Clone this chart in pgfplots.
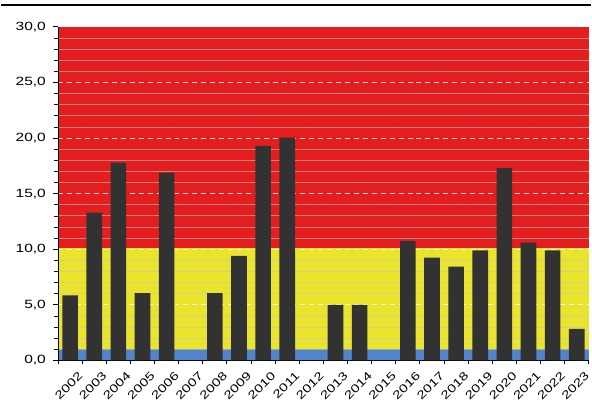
\documentclass[border=0pt]{standalone}
\usepackage{pgfplots}
\pgfplotsset{compat=1.18}
\usepackage{fontspec}
\setmainfont{Liberation Sans}[FakeStretch=1.3]
\definecolor{bandred}{RGB}{228,30,30}
\definecolor{bandyel}{RGB}{234,228,44}
\definecolor{bandblue}{RGB}{82,132,204}
\definecolor{bardark}{RGB}{50,50,50}
\begin{document}
\begin{tikzpicture}
\begin{axis}[
  at={(57pt,59pt)}, anchor=south west,
  scale only axis, width=533pt, height=335pt,
  set layers,
  xmin=-0.5, xmax=21.5, ymin=0, ymax=30,
  axis x line*=bottom, axis y line*=left,
  axis line style={black, line width=1pt},
  xtick={0,...,21},
  xticklabels={2002,2003,2004,2005,2006,2007,2008,2009,2010,2011,2012,2013,2014,2015,2016,2017,2018,2019,2020,2021,2022,2023},
  major x tick style={draw=none},
  minor xtick={-0.5,0.5,...,21.5},
  minor x tick style={black, line width=0.8pt},
  x tick label style={rotate=45, anchor=north east, inner sep=0pt, font=\fontsize{11.5}{13}\selectfont, xshift=1.5pt, yshift=-9pt},
  ytick={0,5,...,30},
  minor y tick num=4,
  y tick label style={font=\fontsize{12}{13}\selectfont, inner sep=2pt, xshift=-5pt},
  yticklabel={\pgfmathprintnumber[fixed,fixed zerofill,precision=1,use comma]{\tick}},
  /pgf/number format/assume math mode=true,
  tick align=outside,
  major tick length=5pt, minor tick length=4pt,
  y tick style={black, line width=0.8pt},
  ymajorgrids, yminorgrids,
  major grid style={white, dashed, dash pattern=on 5pt off 4pt, line width=1pt, opacity=0.85},
  minor grid style={gray!45, line width=0.9pt, opacity=0.6},
]
\addplot[on layer=axis background, fill=bandblue, draw=none, forget plot] coordinates {(-0.5,0) (21.5,0) (21.5,1) (-0.5,1)} --cycle;
\addplot[on layer=axis background, fill=bandyel, draw=none, forget plot] coordinates {(-0.5,1) (21.5,1) (21.5,10.1) (-0.5,10.1)} --cycle;
\addplot[on layer=axis background, fill=bandred, draw=none, forget plot] coordinates {(-0.5,10.1) (21.5,10.1) (21.5,30) (-0.5,30)} --cycle;
\addplot[ybar, bar width=15.7pt, fill=bardark, draw=none] coordinates {
(0,5.85) (1,13.3) (2,17.8) (3,6.05) (4,16.9) (5,0) (6,6.05) (7,9.4)
(8,19.3) (9,20.05) (10,0) (11,5.0) (12,5.0) (13,0) (14,10.75) (15,9.25)
(16,8.45) (17,9.9) (18,17.3) (19,10.6) (20,9.9) (21,2.85)};
\end{axis}
\draw[black, line width=2.5pt] (0,416pt) -- (592pt,416pt);
\path (0,0) rectangle (592pt,421pt);
\end{tikzpicture}
\end{document}
